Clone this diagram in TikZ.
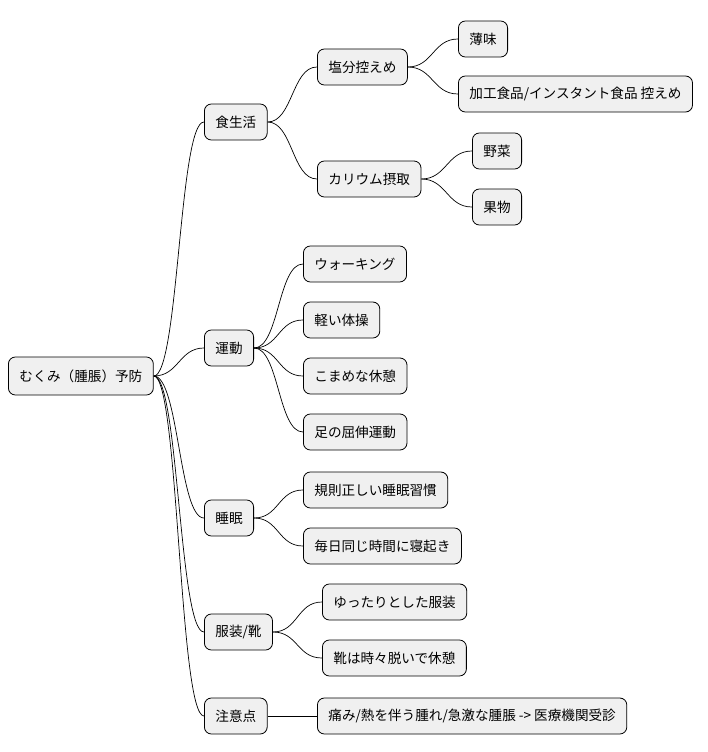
\documentclass[tikz,border=0pt]{standalone}
\usepackage{fontspec}
\setmainfont{Noto Sans CJK JP}
\usetikzlibrary{positioning}
\tikzset{
  topic/.style={draw, rounded corners=7pt, fill=black!6, anchor=west, font=\fontsize{13.6}{15}\selectfont,
    minimum height=36pt, inner xsep=11pt},
  branch/.style={line width=0.7pt}
}
\begin{document}
\begin{tikzpicture}[x=1pt, y=-1pt, line width=0.8pt]
  \useasboundingbox (0,0) rectangle (708,752);
  \node[topic, minimum height=38pt] (root) at (8,376) {むくみ（腫脹）予防};
  % first level
  \node[topic] (diet) at (204,122) {食生活};
  \node[topic] (move) at (204,348) {運動};
  \node[topic] (sleep) at (204,518) {睡眠};
  \node[topic] (wear) at (204,632) {服装/靴};
  \node[topic] (care) at (204,716) {注意点};
  % diet
  \node[topic] (salt) at (317,67) {塩分控えめ};
  \node[topic] (light) at (458,39) {薄味};
  \node[topic] (proc) at (458,94) {加工食品/インスタント食品 控えめ};
  \node[topic] (kal) at (317,179) {カリウム摂取};
  \node[topic] (veg) at (472,151) {野菜};
  \node[topic] (fruit) at (472,207) {果物};
  % exercise
  \node[topic] (walk) at (303,264) {ウォーキング};
  \node[topic] (gym) at (303,320) {軽い体操};
  \node[topic] (rest) at (303,376) {こまめな休憩};
  \node[topic] (leg) at (303,432) {足の屈伸運動};
  % sleep
  \node[topic] (habit) at (303,490) {規則正しい睡眠習慣};
  \node[topic] (same) at (303,546) {毎日同じ時間に寝起き};
  % clothes
  \node[topic] (loose) at (322,602) {ゆったりとした服装};
  \node[topic] (shoe) at (322,658) {靴は時々脱いで休憩};
  % caution
  \node[topic] (pain) at (317,716) {痛み/熱を伴う腫れ/急激な腫脹 -> 医療機関受診};
  \foreach \a/\b in {root/diet, root/move, root/sleep, root/wear, root/care,
      diet/salt, diet/kal, salt/light, salt/proc, kal/veg, kal/fruit,
      move/walk, move/gym, move/rest, move/leg, sleep/habit, sleep/same,
      wear/loose, wear/shoe, care/pain}
    \draw[branch] (\a.east) .. controls +(25,0) and +(-25,0) .. (\b.west);
\end{tikzpicture}
\end{document}
